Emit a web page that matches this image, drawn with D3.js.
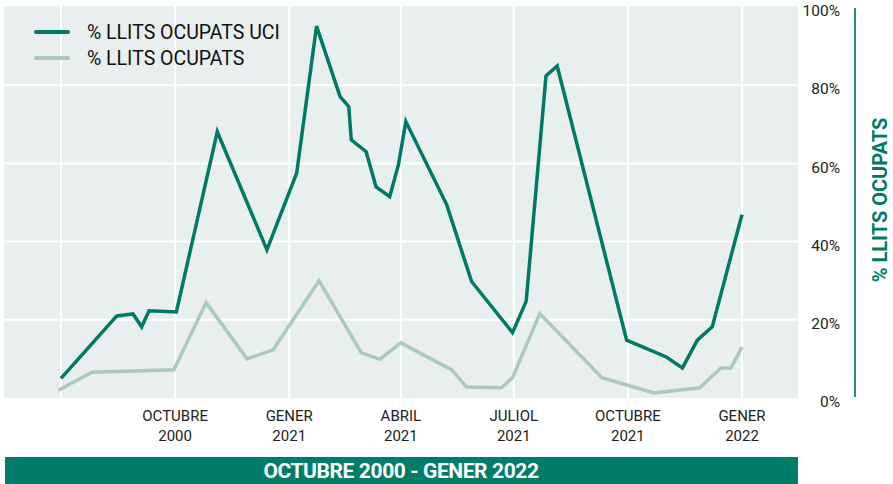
<!DOCTYPE html>
<html>
<head>
<meta charset="utf-8">
<script src="https://cdn.jsdelivr.net/npm/d3@7"></script>
<style>
  html, body { margin: 0; padding: 0; background: #ffffff; }
  svg { display: block; }
  text { font-family: Roboto, "Noto Sans", sans-serif; }
</style>
</head>
<body>
<svg id="chart" width="893" height="484"></svg>
<script>
// Ocupació de llits: UCI i total (percentatge)
const uciDates = ["2020-07-01","2020-08-15","2020-08-28","2020-09-04","2020-09-10","2020-10-02",
  "2020-11-04","2020-12-14","2021-01-07","2021-01-23","2021-02-11","2021-02-18","2021-02-20",
  "2021-03-04","2021-03-12","2021-03-23","2021-03-30","2021-04-05","2021-05-08","2021-05-28",
  "2021-06-30","2021-07-11","2021-07-27","2021-08-05","2021-09-30","2021-11-01","2021-11-14",
  "2021-11-26","2021-12-08","2022-01-01"];
const uciValues = [5.0, 21.0, 21.5, 18.2, 22.3, 22.0,
  68.1, 37.9, 57.5, 95.1, 77.1, 74.5, 66.0,
  63.0, 54.0, 51.5, 59.6, 70.7, 49.4, 29.8,
  16.7, 24.7, 82.4, 84.9, 14.8, 10.5, 7.7,
  14.8, 18.2, 46.9];

const totalDates = ["2020-06-29","2020-07-26","2020-09-30","2020-10-26","2020-11-28","2020-12-19",
  "2021-01-25","2021-02-28","2021-03-15","2021-04-01","2021-05-12","2021-05-24","2021-06-21",
  "2021-06-30","2021-07-22","2021-09-10","2021-10-22","2021-11-28","2021-12-15","2021-12-23",
  "2022-01-01"];
const totalValues = [2.0, 6.6, 7.2, 24.4, 10.0, 12.3,
  30.0, 11.6, 9.9, 14.1, 7.2, 2.8, 2.6,
  5.2, 21.6, 5.2, 1.3, 2.6, 7.7, 7.7,
  13.0];

const tickDates = ["2020-07-01","2020-10-01","2021-01-01","2021-04-01","2021-07-01","2021-10-01","2022-01-01"];
const tickLabels = [null, ["OCTUBRE","2000"], ["GENER","2021"], ["ABRIL","2021"], ["JULIOL","2021"], ["OCTUBRE","2021"], ["GENER","2022"]];
const yTicks = [0, 20, 40, 60, 80, 100];

const seriesNames = ["% LLITS OCUPATS UCI", "% LLITS OCUPATS"];
const axisTitle = "% LLITS OCUPATS";
const periodTitle = "OCTUBRE 2000 - GENER 2022";

const DARK = "#007a66";
const LIGHT = "#a9c9c1";
const PANEL = "#e9efee";

const parse = d3.utcParse("%Y-%m-%d");
const uci = uciDates.map((d, i) => ({ date: parse(d), value: uciValues[i] }));
const total = totalDates.map((d, i) => ({ date: parse(d), value: totalValues[i] }));

const svg = d3.select("#chart");

const x = d3.scaleUtc()
  .domain([parse("2020-07-01"), parse("2022-01-01")])
  .range([61, 742]);
const y = d3.scaleLinear().domain([0, 100]).range([398, 7]);

// plot panel
svg.append("rect")
  .attr("x", 4).attr("y", 6)
  .attr("width", 794).attr("height", 392)
  .attr("fill", PANEL);

// grid
const grid = svg.append("g");
grid.selectAll("line.h")
  .data(yTicks.filter(v => v > 0 && v < 100))
  .join("line")
  .attr("x1", 4).attr("x2", 798)
  .attr("y1", d => y(d)).attr("y2", d => y(d))
  .attr("stroke", "#ffffff").attr("stroke-width", 2);
grid.selectAll("line.v")
  .data(tickDates.map(parse))
  .join("line")
  .attr("x1", d => x(d)).attr("x2", d => x(d))
  .attr("y1", 6).attr("y2", 398)
  .attr("stroke", "#ffffff").attr("stroke-width", 2);

// right axis
const yAxis = d3.axisRight(y)
  .tickValues(yTicks)
  .tickSize(0)
  .tickFormat(d => d + "%");
const ya = svg.append("g")
  .attr("transform", "translate(840,0)")
  .call(yAxis);
ya.select(".domain").remove();
ya.selectAll("text")
  .attr("x", 0)
  .attr("dy", "0.95em")
  .attr("y", -6)
  .attr("text-anchor", "end")
  .attr("fill", "#222")
  .style("font-size", "15.5px")
  .style("font-family", "Roboto, sans-serif");

svg.append("line")
  .attr("x1", 855).attr("x2", 855)
  .attr("y1", 8).attr("y2", 397)
  .attr("stroke", "#2a8e7c").attr("stroke-width", 2);

svg.append("text")
  .attr("transform", "translate(887,200) rotate(-90)")
  .attr("text-anchor", "middle")
  .attr("fill", DARK)
  .style("font-size", "20px")
  .style("font-weight", "700")
  .text(axisTitle);

// bottom axis labels
const xa = svg.append("g");
tickDates.forEach((d, i) => {
  const lab = tickLabels[i];
  if (!lab) return;
  const t = xa.append("text")
    .attr("x", x(parse(d)))
    .attr("text-anchor", "middle")
    .attr("fill", "#222")
    .style("font-size", "15px");
  t.append("tspan").attr("x", x(parse(d))).attr("y", 421).text(lab[0]);
  t.append("tspan").attr("x", x(parse(d))).attr("y", 441).text(lab[1]);
});

// lines
const line = d3.line().x(d => x(d.date)).y(d => y(d.value));
svg.append("path")
  .datum(total)
  .attr("d", line)
  .attr("fill", "none")
  .attr("stroke", LIGHT)
  .attr("stroke-width", 3.5)
  .attr("stroke-linejoin", "miter");
svg.append("path")
  .datum(uci)
  .attr("d", line)
  .attr("fill", "none")
  .attr("stroke", DARK)
  .attr("stroke-width", 3.5)
  .attr("stroke-linejoin", "miter");

// legend
const legend = svg.append("g");
[DARK, LIGHT].forEach((c, i) => {
  const ly = 32 + i * 26;
  legend.append("line")
    .attr("x1", 36).attr("x2", 68)
    .attr("y1", ly).attr("y2", ly)
    .attr("stroke", c).attr("stroke-width", 4)
    .attr("stroke-linecap", "round");
  legend.append("text")
    .attr("x", 87).attr("y", ly + 7)
    .attr("fill", "#111")
    .style("font-size", "19.5px")
    .text(seriesNames[i]);
});

// period banner
svg.append("rect")
  .attr("x", 5).attr("y", 457)
  .attr("width", 793).attr("height", 27)
  .attr("fill", "#007c69");
svg.append("text")
  .attr("x", 401).attr("y", 478)
  .attr("text-anchor", "middle")
  .attr("fill", "#ffffff")
  .style("font-size", "21px")
  .style("font-weight", "700")
  .style("letter-spacing", "-0.4px")
  .text(periodTitle);
</script>
</body>
</html>
